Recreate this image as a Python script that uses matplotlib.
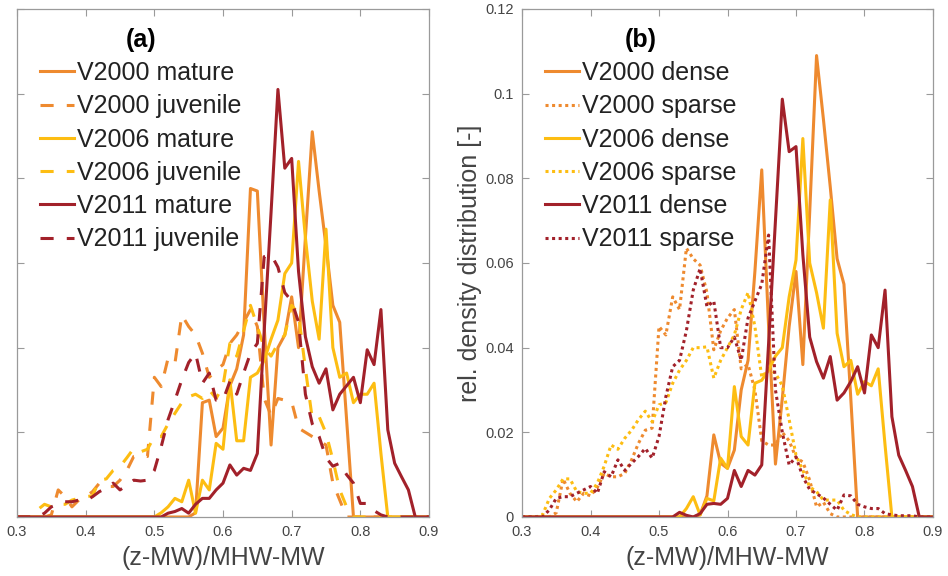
import matplotlib
matplotlib.use("Agg")
import matplotlib.pyplot as plt
from matplotlib.ticker import FuncFormatter

plt.rcParams['font.family'] = ['Liberation Sans', 'DejaVu Sans']

# x grid (z-MW)/MHW-MW, 0.30 ... 0.90
x = [0.30, 0.31, 0.32, 0.33, 0.34, 0.35, 0.36, 0.37, 0.38, 0.39,
     0.40, 0.41, 0.42, 0.43, 0.44, 0.45, 0.46, 0.47, 0.48, 0.49,
     0.50, 0.51, 0.52, 0.53, 0.54, 0.55, 0.56, 0.57, 0.58, 0.59,
     0.60, 0.61, 0.62, 0.63, 0.64, 0.65, 0.66, 0.67, 0.68, 0.69,
     0.70, 0.71, 0.72, 0.73, 0.74, 0.75, 0.76, 0.77, 0.78, 0.79,
     0.80, 0.81, 0.82, 0.83, 0.84, 0.85, 0.86, 0.87, 0.88, 0.89,
     0.90]

# ---- panel (a): mature / juvenile ----
a_v2000_mature = [0, 0, 0, 0, 0, 0, 0, 0, 0, 0,
                  0, 0, 0, 0, 0, 0, 0, 0, 0, 0,
                  0, 0, 0, 0, 0, 0, 0.001, 0.027, 0.0276, 0.019,
                  0.021, 0.031, 0.035, 0.043, 0.0776, 0.077, 0.045, 0.017, 0.040, 0.043,
                  0.052, 0.040, 0.066, 0.091, 0.077, 0.064, 0.050, 0.046, 0.023, 0,
                  0, 0, 0, 0, 0, 0, 0, 0, 0, 0,
                  0]
a_v2000_juvenile = [0, 0, 0, 0, 0, 0.0005, 0.0064, 0.0048, 0.0024, 0.004,
                    0.0048, 0.006, 0.008, 0.0072, 0.0072, 0.0087, 0.011, 0.0143, 0.0146, 0.0143,
                    0.033, 0.0308, 0.0375, 0.0363, 0.0477, 0.045, 0.043, 0.0387, 0.033, 0.0347,
                    0.036, 0.041, 0.043, 0.046, 0.049, 0.045, 0.028, 0.024, 0.028, 0.0276,
                    0.0272, 0.021, 0.020, 0.019, 0.018, 0.017, 0.008, 0.004, 0, 0,
                    0, 0, 0, 0, 0, 0, 0, 0, 0, 0,
                    0]
a_v2006_mature = [0, 0, 0, 0, 0, 0, 0, 0, 0, 0,
                  0, 0, 0, 0, 0, 0, 0, 0, 0, 0,
                  0, 0.001, 0.0024, 0.0044, 0.0036, 0.0087, 0.0009, 0.0087, 0.0064, 0.0174,
                  0.016, 0.0324, 0.018, 0.018, 0.033, 0.034, 0.037, 0.042, 0.0465, 0.0575,
                  0.060, 0.084, 0.066, 0.051, 0.042, 0.068, 0.040, 0.033, 0.034, 0.027,
                  0.029, 0.029, 0.0316, 0.015, 0, 0, 0, 0, 0, 0,
                  0]
a_v2006_juvenile = [0, 0, 0, 0.0017, 0.003, 0.0024, 0.003, 0.003, 0.004, 0.0044,
                    0.0048, 0.005, 0.0087, 0.009, 0.011, 0.0119, 0.014, 0.0162, 0.0154, 0.016,
                    0.019, 0.019, 0.022, 0.0245, 0.027, 0.0284, 0.029, 0.028, 0.030, 0.028,
                    0.031, 0.041, 0.038, 0.044, 0.050, 0.045, 0.040, 0.038, 0.041, 0.043,
                    0.050, 0.048, 0.035, 0.0233, 0.0237, 0.0198, 0.0135, 0.0064, 0.0024, 0,
                    0, 0, 0, 0, 0, 0, 0, 0, 0, 0,
                    0]
a_v2011_mature = [0, 0, 0, 0, 0, 0, 0, 0, 0, 0,
                  0, 0, 0, 0, 0, 0, 0, 0, 0, 0,
                  0, 0, 0.0009, 0.0013, 0.002, 0.0009, 0.003, 0.0044, 0.0044, 0.0064,
                  0.008, 0.0123, 0.0099, 0.0115, 0.011, 0.015, 0.044, 0.072, 0.101, 0.0824,
                  0.0847, 0.058, 0.0426, 0.0355, 0.0316, 0.035, 0.0253, 0.029, 0.031, 0.033,
                  0.027, 0.0395, 0.036, 0.049, 0.0206, 0.0127, 0.0095, 0.0064, 0, 0,
                  0]
a_v2011_juvenile = [0, 0, 0, 0, 0.0009, 0.0024, 0.003, 0.0036, 0.0036, 0.004,
                    0.0038, 0.0048, 0.006, 0.0068, 0.008, 0.0064, 0.0075, 0.0087, 0.0085, 0.0087,
                    0.011, 0.0166, 0.023, 0.0276, 0.0324, 0.0365, 0.0387, 0.0316, 0.034, 0.0276,
                    0.0276, 0.032, 0.029, 0.034, 0.0387, 0.041, 0.0615, 0.062, 0.059, 0.053,
                    0.051, 0.046, 0.029, 0.022, 0.019, 0.014, 0.012, 0.0127, 0.010, 0.008,
                    0.0032, 0.0032, 0.0015, 0.0005, 0, 0, 0, 0, 0, 0,
                    0]

# ---- panel (b): dense / sparse ----
b_v2000_dense = [0, 0, 0, 0, 0, 0, 0, 0, 0, 0,
                 0, 0, 0, 0, 0, 0, 0, 0, 0, 0,
                 0, 0, 0, 0, 0, 0, 0.0005, 0.005, 0.0194, 0.0127,
                 0.0115, 0.0158, 0.030, 0.037, 0.058, 0.082, 0.045, 0.0125, 0.028, 0.045,
                 0.058, 0.036, 0.072, 0.109, 0.094, 0.078, 0.061, 0.055, 0.028, 0,
                 0, 0, 0, 0, 0, 0, 0, 0, 0, 0,
                 0]
b_v2000_sparse = [0, 0, 0, 0, 0, 0.001, 0.009, 0.0056, 0.0036, 0.0056,
                  0.005, 0.007, 0.0103, 0.0095, 0.0095, 0.0103, 0.0135, 0.0174, 0.0205, 0.021,
                  0.045, 0.043, 0.052, 0.049, 0.0635, 0.061, 0.0595, 0.053, 0.0395, 0.044,
                  0.047, 0.049, 0.035, 0.036, 0.030, 0.018, 0.017, 0.017, 0.020, 0.018,
                  0.014, 0.013, 0.0087, 0.0024, 0.0035, 0.0008, 0, 0, 0, 0,
                  0, 0, 0, 0, 0, 0, 0, 0, 0, 0,
                  0]
b_v2006_dense = [0, 0, 0, 0, 0, 0, 0, 0, 0, 0,
                 0, 0, 0, 0, 0, 0, 0, 0, 0, 0,
                 0, 0, 0, 0, 0.002, 0.0048, 0.0005, 0.0044, 0.0038, 0.0139,
                 0.0115, 0.0308, 0.019, 0.017, 0.0316, 0.0323, 0.0347, 0.038, 0.040, 0.052,
                 0.0607, 0.0894, 0.060, 0.053, 0.0446, 0.0749, 0.0434, 0.0355, 0.037, 0.029,
                 0.032, 0.031, 0.035, 0.017, 0, 0, 0, 0, 0, 0,
                 0]
b_v2006_sparse = [0, 0, 0, 0.0005, 0.0044, 0.0064, 0.009, 0.009, 0.006, 0.0056,
                  0.0056, 0.008, 0.012, 0.017, 0.016, 0.0186, 0.0205, 0.023, 0.025, 0.0225,
                  0.0265, 0.027, 0.0316, 0.0347, 0.037, 0.040, 0.040, 0.0402, 0.0328, 0.037,
                  0.040, 0.043, 0.049, 0.053, 0.045, 0.033, 0.035, 0.034, 0.031, 0.023,
                  0.0146, 0.011, 0.0071, 0.006, 0.004, 0.004, 0.004, 0.0016, 0.0006, 0,
                  0, 0, 0, 0, 0, 0, 0, 0, 0, 0,
                  0]
b_v2011_dense = [0, 0, 0, 0, 0, 0, 0, 0, 0, 0,
                 0, 0, 0, 0, 0, 0, 0, 0, 0, 0,
                 0, 0, 0, 0.0011, 0.0004, 0, 0.0008, 0.003, 0.0032, 0.003,
                 0.0044, 0.011, 0.0072, 0.011, 0.0099, 0.0123, 0.041, 0.070, 0.0987, 0.0863,
                 0.0875, 0.062, 0.0425, 0.0367, 0.0328, 0.0379, 0.0276, 0.0293, 0.032, 0.0355,
                 0.0293, 0.043, 0.040, 0.0536, 0.0237, 0.0146, 0.011, 0.0072, 0, 0,
                 0]
b_v2011_sparse = [0, 0, 0, 0, 0.0017, 0.0044, 0.0048, 0.0048, 0.0056, 0.0064,
                  0.0072, 0.0056, 0.0107, 0.0095, 0.0135, 0.011, 0.0127, 0.0143, 0.0162, 0.0139,
                  0.019, 0.0284, 0.0355, 0.037, 0.044, 0.0536, 0.0587, 0.0497, 0.051, 0.040,
                  0.040, 0.0425, 0.037, 0.047, 0.051, 0.055, 0.0666, 0.030, 0.020, 0.0123,
                  0.0142, 0.0095, 0.0065, 0.0055, 0.0045, 0.003, 0.0016, 0.0052, 0.005, 0.003,
                  0.0024, 0.002, 0.002, 0.0008, 0.0005, 0.0003, 0.0003, 0.0003, 0, 0,
                  0]

labels_a = ["V2000 mature", "V2000 juvenile", "V2006 mature",
            "V2006 juvenile", "V2011 mature", "V2011 juvenile"]
labels_b = ["V2000 dense", "V2000 sparse", "V2006 dense",
            "V2006 sparse", "V2011 dense", "V2011 sparse"]
x_ticks = [0.3, 0.4, 0.5, 0.6, 0.7, 0.8, 0.9]
y_ticks = [0, 0.02, 0.04, 0.06, 0.08, 0.1, 0.12]

C_ORANGE = '#EE8A2F'
C_YELLOW = '#FDBD12'
C_RED = '#A2212A'
LW = 2.2
DASH = (0, (4.3, 4.3))
DOT = (0, (1.0, 1.15))

FS = 18
TEXT_C = '#444444'
AX_C = '#9a9a9a'

fig = plt.figure(figsize=(9.48, 5.76), dpi=100)
axA = fig.add_axes([17/948, 59/576, 412/948, 508/576])
axB = fig.add_axes([522/948, 59/576, 411/948, 508/576])

series_a = [a_v2000_mature, a_v2000_juvenile, a_v2006_mature,
            a_v2006_juvenile, a_v2011_mature, a_v2011_juvenile]
series_b = [b_v2000_dense, b_v2000_sparse, b_v2006_dense,
            b_v2006_sparse, b_v2011_dense, b_v2011_sparse]
colors = [C_ORANGE, C_ORANGE, C_YELLOW, C_YELLOW, C_RED, C_RED]

for ax, series, labels, alt_style, title in [
        (axA, series_a, labels_a, DASH, '(a)'),
        (axB, series_b, labels_b, DOT, '(b)')]:
    for i, (ys, lab, col) in enumerate(zip(series, labels, colors)):
        ls = '-' if i % 2 == 0 else alt_style
        ax.plot(x, ys, color=col, lw=LW, linestyle=ls, label=lab)
    ax.set_xlim(0.3, 0.9)
    ax.set_ylim(0, 0.12)
    ax.set_xticks(x_ticks)
    ax.set_yticks(y_ticks)
    ax.xaxis.set_major_formatter(FuncFormatter(lambda v, p: '%g' % round(v, 2)))
    ax.yaxis.set_major_formatter(FuncFormatter(lambda v, p: '%g' % round(v, 2)))
    ax.tick_params(direction='in', top=True, right=True, length=5, width=0.8,
                   color=AX_C, labelcolor=TEXT_C, labelsize=10.5, pad=6)
    for sp in ax.spines.values():
        sp.set_color(AX_C)
        sp.set_linewidth(0.9)
    ax.set_xlabel('(z-MW)/MHW-MW', fontsize=FS, color=TEXT_C, labelpad=5)
    leg = ax.legend(loc='upper left', bbox_to_anchor=(0.057, 0.963), frameon=False,
                    fontsize=FS, handlelength=1.35, handletextpad=0.1,
                    labelspacing=0.37, borderpad=0, borderaxespad=0)
    leg.set_title(title, prop={'weight': 'bold', 'size': FS})
    for t in leg.get_texts():
        t.set_color('#222222')

axA.tick_params(labelleft=False)
axB.set_ylabel('rel. density distribution [-]', fontsize=FS, color=TEXT_C, labelpad=2)

fig.savefig('out.png', dpi=100)
